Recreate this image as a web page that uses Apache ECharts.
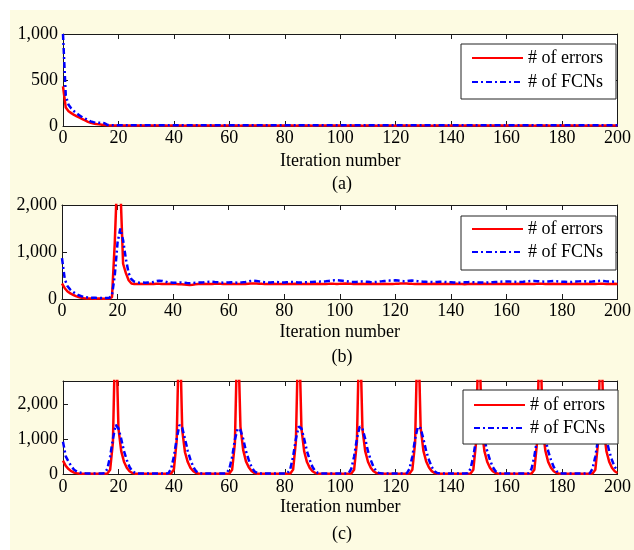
<!DOCTYPE html>
<html>
<head>
<meta charset="utf-8">
<script src="https://cdn.jsdelivr.net/npm/echarts@6/dist/echarts.min.js"></script>
<style>
  html, body { margin: 0; padding: 0; background: #ffffff; }
  #paper { position: absolute; left: 10px; top: 10px; width: 624px; height: 540px; background: #fdfbe2; }
  #chart { position: absolute; left: 0; top: 0; width: 634px; height: 550px; }
</style>
</head>
<body>
<div id="paper"></div>
<div id="chart"></div>
<script>
// Series names and labels
const seriesNames = ['# of errors', '# of FCNs'];
const panelLabels = ['(a)', '(b)', '(c)'];
const xTitle = 'Iteration number';

// Panel (a): errors and FCNs per iteration (0..200)
const errA = [
  430,200,160,140,120,105,90,75,60,45,
  35,28,22,18,14,10,7,6,6,5,
  5,5,6,5,5,4,5,5,6,5,
  5,4,5,5,5,6,5,5,4,5,
  5,5,6,5,4,5,5,5,6,5,
  4,5,5,6,5,5,5,4,5,5,
  6,5,5,5,4,5,6,5,5,5,
  5,4,5,5,6,5,5,4,5,5,
  5,6,5,5,4,5,5,6,5,5,
  4,5,5,5,6,5,4,5,5,6,
  5,5,4,5,5,6,5,5,4,5,
  5,6,5,4,5,5,5,6,5,5,
  4,5,6,5,5,5,4,5,5,6,
  5,5,5,4,5,6,5,5,5,4,
  5,5,6,5,4,5,5,5,6,5,
  5,4,5,5,6,5,5,4,5,5,
  6,5,5,4,5,5,6,5,5,5,
  4,5,5,6,5,5,4,5,6,5,
  5,5,4,5,6,5,5,5,4,5,
  5,6,5,5,4,5,5,6,5,5,
  5
];
const fcnA = [
  1000,330,230,190,160,135,115,95,80,65,
  50,42,38,35,33,30,12,10,9,8,
  8,9,8,8,7,8,9,8,8,7,
  8,8,9,8,7,8,8,9,8,8,
  7,8,9,8,8,8,7,8,9,8,
  8,7,8,8,9,8,8,7,8,9,
  8,8,7,8,9,8,8,8,7,8,
  9,8,8,7,8,8,9,8,8,7,
  8,9,8,8,7,8,8,9,8,8,
  7,8,8,9,8,8,7,8,9,8,
  8,8,7,8,9,8,8,7,8,8,
  9,8,8,7,8,9,8,8,8,7,
  8,8,9,8,7,8,8,9,8,8,
  7,8,9,8,8,8,7,8,8,9,
  8,8,7,8,9,8,8,7,8,8,
  9,8,8,8,7,8,9,8,8,7,
  8,8,9,8,8,7,8,8,9,8,
  7,8,8,9,8,8,7,8,9,8,
  8,7,8,8,9,8,8,7,8,8,
  9,8,8,7,8,8,9,8,7,8,
  8
];

// Panel (b)
const errB = [
  330,230,160,120,90,60,40,25,15,10,
  8,8,7,8,8,7,8,9,40,1200,
  2800,2400,750,550,400,330,320,320,325,320,
  320,318,322,320,325,322,320,318,320,322,
  320,318,316,312,308,305,300,305,312,318,
  320,322,320,318,320,322,325,322,320,318,
  320,322,320,318,320,322,320,325,328,330,
  328,325,322,320,318,320,322,320,318,320,
  322,320,318,320,322,320,318,320,322,320,
  318,320,322,320,318,320,322,325,322,320,
  322,325,328,325,322,320,318,320,322,320,
  318,320,322,320,318,320,322,320,318,320,
  322,325,328,330,328,325,322,320,318,320,
  322,320,318,320,322,320,318,320,322,320,
  318,320,322,320,318,316,318,320,322,320,
  318,320,322,320,318,320,322,320,318,320,
  322,320,318,320,322,320,318,320,322,320,
  320,322,325,322,320,318,320,322,320,318,
  320,322,320,318,320,322,320,318,320,322,
  320,318,320,322,325,322,320,318,320,322,
  320
];
const fcnB = [
  870,420,270,200,150,110,80,60,45,35,
  28,25,24,23,22,22,23,24,80,500,
  1200,1500,1250,850,550,420,370,355,345,350,
  345,350,355,360,380,390,385,370,355,350,
  348,345,350,352,348,340,335,338,345,350,
  352,355,360,365,368,362,358,352,348,350,
  352,355,350,348,352,355,360,370,385,390,
  385,375,365,358,352,350,355,360,358,352,
  350,355,360,362,358,352,350,355,358,360,
  362,365,368,370,372,378,385,392,398,400,
  395,388,380,372,365,360,362,368,372,370,
  365,360,358,362,368,375,382,388,392,395,
  398,392,385,378,380,388,392,385,378,372,
  368,365,362,360,358,362,365,368,362,358,
  355,352,350,348,352,355,358,360,358,355,
  352,350,348,352,355,358,362,365,368,372,
  375,372,368,365,362,360,365,372,378,382,
  385,380,375,372,368,372,378,382,378,372,
  368,365,362,360,365,370,375,380,378,372,
  368,372,378,385,388,382,375,370,372,368,
  372
];

// Panel (c)
const errC = [
  380,230,140,80,40,20,10,8,8,8,
  8,8,8,8,8,8,15,120,900,4500,
  1300,650,350,180,80,30,10,8,8,8,
  8,8,8,8,8,8,8,8,8,15,
  130,950,4600,1250,620,340,170,80,30,10,
  8,8,8,8,8,8,8,8,8,8,
  15,120,880,4400,1350,680,360,190,85,30,
  10,8,8,8,8,8,8,8,8,8,
  8,8,15,125,920,4500,1300,640,340,175,
  80,30,10,8,8,8,8,8,8,8,
  8,8,8,8,15,120,900,4550,1280,650,
  350,180,80,30,10,8,8,8,8,8,
  8,8,8,8,8,15,118,890,4500,1320,
  660,355,185,82,30,10,8,8,8,8,
  8,8,8,8,8,8,8,15,122,910,
  4480,1300,650,350,180,80,30,10,8,8,
  8,8,8,8,8,8,8,8,8,15,
  120,900,4520,1310,655,345,178,80,30,10,
  8,8,8,8,8,8,8,8,8,8,
  8,15,120,900,4500,1300,650,350,180,80,
  30
];
const fcnC = [
  920,500,350,220,120,70,40,25,18,15,
  15,15,15,14,15,20,150,500,1000,1400,
  1300,1000,650,400,200,80,30,15,15,15,
  15,16,15,14,15,15,16,15,20,150,
  500,1000,1400,1320,1000,660,400,200,80,30,
  15,15,16,15,14,15,15,16,15,20,
  150,480,980,1300,1250,1000,650,400,200,80,
  30,15,15,16,15,14,15,15,16,15,
  15,20,150,500,1000,1350,1300,1000,650,400,
  200,80,30,15,15,16,15,14,15,15,
  16,15,15,20,150,500,1000,1350,1300,1000,
  650,400,200,80,30,15,15,16,15,14,
  15,15,16,15,20,150,500,1000,1350,1300,
  1000,650,400,200,80,30,15,15,16,15,
  14,15,15,16,15,15,20,150,500,1000,
  1350,1300,1000,650,400,200,80,30,15,15,
  16,15,14,15,15,16,15,15,20,150,
  500,1000,1350,1300,1000,650,400,200,80,30,
  15,15,16,15,14,15,15,16,15,15,
  20,150,500,1000,1350,1300,1000,650,400,200,
  100
];

// Axis ranges
const yMaxes = [1000, 2000, 2650];
const ySteps = [500, 1000, 1000];

const panels = [
  { err: errA, fcn: fcnA },
  { err: errB, fcn: fcnB },
  { err: errC, fcn: fcnC }
];

// ---- layout and style ----
const FONT = '"Times New Roman", "Liberation Serif", serif';
const AXIS_COLOR = '#1a1a1a';
const RED = '#ff0000';
const BLUE = '#0000ff';

const gridBoxes = [
  { left: 63, top: 34, width: 559, height: 92 },
  { left: 62, top: 205, width: 560, height: 94 },
  { left: 63, top: 381, width: 559, height: 93 }
];
const nameGaps = [26, 24, 24];
const labelMargins = [3, 3, 4];
const subLabelY = [184, 357, 534];
const legendBoxes = [
  { left: 461, top: 44, padding: [5, 13, 8, 10], itemGap: 6 },
  { left: 461, top: 216, padding: [4, 13, 9, 10], itemGap: 5 },
  { left: 463, top: 390, padding: [6, 13, 7, 10], itemGap: 5 }
];

const withCommas = v => String(v).replace(/\B(?=(\d{3})+(?!\d))/g, ',');

const lineAxis = {
  axisLine: { onZero: false, lineStyle: { color: AXIS_COLOR, width: 1 } },
  axisTick: { inside: true, length: 5, lineStyle: { color: AXIS_COLOR, width: 1 } },
  splitLine: { show: false }
};
const labelText = { color: '#000', fontFamily: FONT, fontSize: 18 };

const grid = [], xAxis = [], yAxis = [], series = [], legend = [], graphic = [];

panels.forEach((p, i) => {
  grid.push(Object.assign({ show: true, backgroundColor: '#ffffff', borderWidth: 0 }, gridBoxes[i]));

  xAxis.push(Object.assign({
    gridIndex: i, type: 'value', min: 0, max: 200, interval: 20, position: 'bottom',
    axisLabel: Object.assign({ margin: labelMargins[i] }, labelText),
    name: xTitle, nameLocation: 'middle', nameGap: nameGaps[i],
    nameTextStyle: labelText
  }, lineAxis));
  xAxis.push(Object.assign({
    gridIndex: i, type: 'value', min: 0, max: 200, interval: 20, position: 'top',
    axisLabel: { show: false }
  }, lineAxis));

  const step = ySteps[i];
  yAxis.push(Object.assign({
    gridIndex: i, type: 'value', min: 0, max: yMaxes[i], interval: step, position: 'left',
    axisLabel: Object.assign({
      margin: 5, showMaxLabel: yMaxes[i] % step === 0,
      formatter: v => (v % step === 0 ? withCommas(v) : '')
    }, labelText)
  }, lineAxis));
  yAxis.push(Object.assign({
    gridIndex: i, type: 'value', min: 0, max: yMaxes[i], interval: step, position: 'right',
    axisLabel: { show: false }
  }, lineAxis));

  series.push({
    name: seriesNames[0], type: 'line', xAxisIndex: 2 * i, yAxisIndex: 2 * i,
    data: p.err.map((v, k) => [k, v]),
    symbol: 'none', showSymbol: false, clip: true, z: 2,
    lineStyle: { color: RED, width: 2.5, type: 'solid' },
    itemStyle: { color: RED }
  });
  series.push({
    name: seriesNames[1], type: 'line', xAxisIndex: 2 * i, yAxisIndex: 2 * i,
    data: p.fcn.map((v, k) => [k, v]),
    symbol: 'none', showSymbol: false, clip: true, z: 3,
    lineStyle: { color: BLUE, width: 2.5, type: [6, 3, 2, 3] },
    itemStyle: { color: BLUE }
  });

  legend.push({
    data: seriesNames, orient: 'vertical', selectedMode: false,
    left: legendBoxes[i].left, top: legendBoxes[i].top,
    padding: legendBoxes[i].padding, itemGap: legendBoxes[i].itemGap,
    itemWidth: 51, itemHeight: 18,
    // keys show the line only, no marker
    itemStyle: { opacity: 0 },
    backgroundColor: '#ffffff', borderColor: '#222', borderWidth: 1, borderRadius: 0,
    textStyle: Object.assign({ lineHeight: 18 }, labelText)
  });

  graphic.push({
    type: 'text', x: 342, y: subLabelY[i], silent: true,
    style: {
      text: panelLabels[i], fill: '#000', font: '18px ' + FONT,
      align: 'center', verticalAlign: 'middle'
    }
  });
});

const chart = echarts.init(document.getElementById('chart'), null, { renderer: 'canvas' });
chart.setOption({
  backgroundColor: 'transparent',
  animation: false,
  grid, xAxis, yAxis, series, legend, graphic
});
</script>
</body>
</html>
